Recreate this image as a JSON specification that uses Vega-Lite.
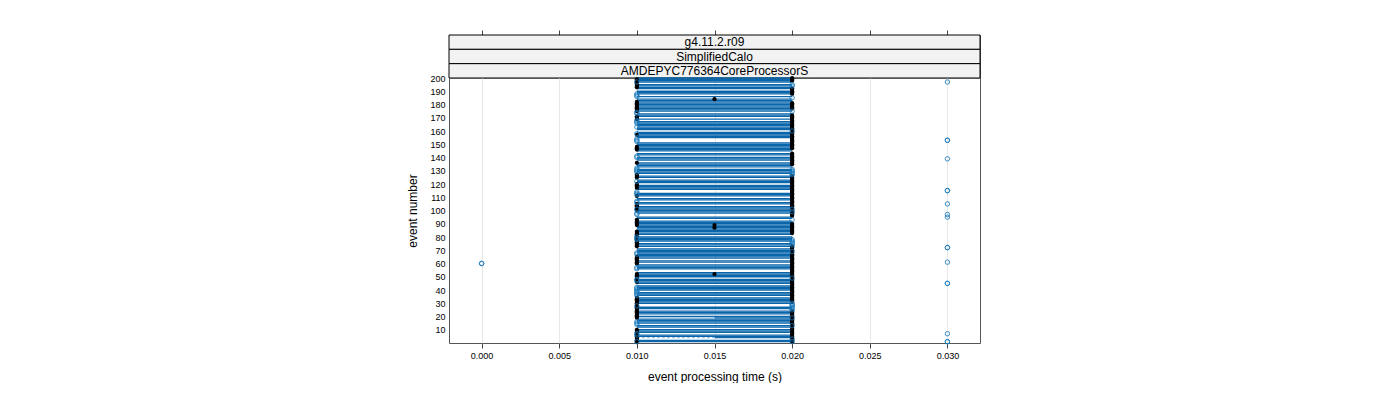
{
"$schema": "https://vega.github.io/schema/vega-lite/v6.json",
"padding": {"left": 406, "top": 29, "right": 0, "bottom": 0},
"bounds": "flush",
"spacing": 0,
"config": {"font": "Liberation Sans", "view": {"stroke": "#555555", "strokeWidth": 1}, "axis": {"labelFont": "Liberation Sans", "titleFont": "Liberation Sans", "titleFontWeight": "normal", "labelColor": "#000000", "titleColor": "#000000", "labelOverlap": false}},
"datasets": {
"strips": [{"lv": 1, "label": "g4.11.2.r09"}, {"lv": 2, "label": "SimplifiedCalo"}, {"lv": 3, "label": "AMDEPYC776364CoreProcessorS"}],
"seg": [{"e":1},{"e":2},{"e":5},{"e":6},{"e":8},{"e":9},{"e":10},{"e":12},{"e":13},{"e":15},{"e":16},{"e":17},{"e":18},{"e":20},{"e":22},{"e":23},{"e":24},{"e":26},{"e":27},{"e":30},{"e":31},{"e":32},{"e":33},{"e":34},{"e":36},{"e":37},{"e":38},{"e":40},{"e":41},{"e":42},{"e":43},{"e":45},{"e":46},{"e":47},{"e":48},{"e":50},{"e":51},{"e":52},{"e":53},{"e":56},{"e":57},{"e":58},{"e":59},{"e":61},{"e":62},{"e":64},{"e":65},{"e":66},{"e":67},{"e":68},{"e":69},{"e":70},{"e":71},{"e":73},{"e":74},{"e":75},{"e":77},{"e":78},{"e":79},{"e":80},{"e":82},{"e":83},{"e":84},{"e":85},{"e":86},{"e":87},{"e":88},{"e":89},{"e":90},{"e":91},{"e":92},{"e":94},{"e":95},{"e":98},{"e":99},{"e":100},{"e":101},{"e":102},{"e":103},{"e":105},{"e":106},{"e":108},{"e":109},{"e":111},{"e":112},{"e":113},{"e":116},{"e":117},{"e":118},{"e":119},{"e":121},{"e":122},{"e":123},{"e":125},{"e":126},{"e":128},{"e":129},{"e":130},{"e":131},{"e":133},{"e":134},{"e":135},{"e":136},{"e":138},{"e":139},{"e":140},{"e":142},{"e":143},{"e":145},{"e":146},{"e":147},{"e":148},{"e":149},{"e":150},{"e":151},{"e":155},{"e":156},{"e":157},{"e":158},{"e":159},{"e":161},{"e":162},{"e":163},{"e":164},{"e":165},{"e":166},{"e":167},{"e":169},{"e":171},{"e":172},{"e":173},{"e":175},{"e":176},{"e":177},{"e":178},{"e":179},{"e":180},{"e":181},{"e":182},{"e":183},{"e":184},{"e":186},{"e":188},{"e":189},{"e":190},{"e":192},{"e":193},{"e":194},{"e":195},{"e":197},{"e":198},{"e":199},{"e":200}],
"part": [{"e": 19}, {"e": 4}],
"blk": [
{"e":1,"t":0.01},{"e":2,"t":0.01},{"e":3,"t":0.01},{"e":4,"t":0.01},{"e":5,"t":0.01},{"e":6,"t":0.01},{"e":7,"t":0.01},{"e":8,"t":0.01},{"e":9,"t":0.01},{"e":10,"t":0.01},{"e":19,"t":0.01},{"e":20,"t":0.01},{"e":21,"t":0.01},{"e":22,"t":0.01},{"e":23,"t":0.01},{"e":24,"t":0.01},{"e":25,"t":0.01},{"e":26,"t":0.01},{"e":27,"t":0.01},{"e":28,"t":0.01},{"e":30,"t":0.01},{"e":31,"t":0.01},{"e":32,"t":0.01},{"e":33,"t":0.01},{"e":34,"t":0.01},{"e":46,"t":0.01},{"e":47,"t":0.01},{"e":48,"t":0.01},{"e":49,"t":0.01},{"e":50,"t":0.01},{"e":51,"t":0.01},{"e":52,"t":0.01},{"e":60,"t":0.01},{"e":61,"t":0.01},{"e":62,"t":0.01},{"e":63,"t":0.01},{"e":64,"t":0.01},{"e":65,"t":0.01},{"e":73,"t":0.01},{"e":74,"t":0.01},{"e":75,"t":0.01},{"e":76,"t":0.01},{"e":77,"t":0.01},{"e":78,"t":0.01},{"e":79,"t":0.01},{"e":80,"t":0.01},{"e":81,"t":0.01},{"e":82,"t":0.01},{"e":83,"t":0.01},{"e":84,"t":0.01},{"e":89,"t":0.01},{"e":90,"t":0.01},{"e":91,"t":0.01},{"e":92,"t":0.01},{"e":93,"t":0.01},{"e":100,"t":0.01},{"e":101,"t":0.01},{"e":102,"t":0.01},{"e":103,"t":0.01},{"e":104,"t":0.01},{"e":105,"t":0.01},{"e":111,"t":0.01},{"e":117,"t":0.01},{"e":118,"t":0.01},{"e":119,"t":0.01},{"e":120,"t":0.01},{"e":125,"t":0.01},{"e":126,"t":0.01},{"e":127,"t":0.01},{"e":136,"t":0.01},{"e":146,"t":0.01},{"e":147,"t":0.01},{"e":148,"t":0.01},{"e":157,"t":0.01},{"e":169,"t":0.01},{"e":170,"t":0.01},{"e":171,"t":0.01},{"e":175,"t":0.01},{"e":176,"t":0.01},{"e":177,"t":0.01},{"e":178,"t":0.01},{"e":179,"t":0.01},{"e":180,"t":0.01},{"e":181,"t":0.01},{"e":182,"t":0.01},{"e":193,"t":0.01},{"e":194,"t":0.01},{"e":195,"t":0.01},{"e":196,"t":0.01},{"e":197,"t":0.01},{"e":198,"t":0.01},{"e":199,"t":0.01},
{"e":1,"t":0.02},{"e":2,"t":0.02},{"e":3,"t":0.02},{"e":4,"t":0.02},{"e":5,"t":0.02},{"e":6,"t":0.02},{"e":7,"t":0.02},{"e":8,"t":0.02},{"e":9,"t":0.02},{"e":10,"t":0.02},{"e":11,"t":0.02},{"e":12,"t":0.02},{"e":14,"t":0.02},{"e":15,"t":0.02},{"e":16,"t":0.02},{"e":17,"t":0.02},{"e":18,"t":0.02},{"e":19,"t":0.02},{"e":20,"t":0.02},{"e":21,"t":0.02},{"e":22,"t":0.02},{"e":23,"t":0.02},{"e":24,"t":0.02},{"e":31,"t":0.02},{"e":32,"t":0.02},{"e":33,"t":0.02},{"e":34,"t":0.02},{"e":35,"t":0.02},{"e":36,"t":0.02},{"e":37,"t":0.02},{"e":38,"t":0.02},{"e":39,"t":0.02},{"e":40,"t":0.02},{"e":41,"t":0.02},{"e":42,"t":0.02},{"e":43,"t":0.02},{"e":44,"t":0.02},{"e":45,"t":0.02},{"e":46,"t":0.02},{"e":47,"t":0.02},{"e":48,"t":0.02},{"e":50,"t":0.02},{"e":51,"t":0.02},{"e":52,"t":0.02},{"e":53,"t":0.02},{"e":54,"t":0.02},{"e":55,"t":0.02},{"e":56,"t":0.02},{"e":57,"t":0.02},{"e":58,"t":0.02},{"e":59,"t":0.02},{"e":60,"t":0.02},{"e":61,"t":0.02},{"e":62,"t":0.02},{"e":63,"t":0.02},{"e":64,"t":0.02},{"e":65,"t":0.02},{"e":66,"t":0.02},{"e":67,"t":0.02},{"e":68,"t":0.02},{"e":70,"t":0.02},{"e":71,"t":0.02},{"e":72,"t":0.02},{"e":73,"t":0.02},{"e":83,"t":0.02},{"e":84,"t":0.02},{"e":85,"t":0.02},{"e":86,"t":0.02},{"e":87,"t":0.02},{"e":88,"t":0.02},{"e":89,"t":0.02},{"e":90,"t":0.02},{"e":96,"t":0.02},{"e":97,"t":0.02},{"e":98,"t":0.02},{"e":99,"t":0.02},{"e":100,"t":0.02},{"e":102,"t":0.02},{"e":103,"t":0.02},{"e":104,"t":0.02},{"e":105,"t":0.02},{"e":106,"t":0.02},{"e":107,"t":0.02},{"e":108,"t":0.02},{"e":109,"t":0.02},{"e":110,"t":0.02},{"e":111,"t":0.02},{"e":112,"t":0.02},{"e":113,"t":0.02},{"e":114,"t":0.02},{"e":115,"t":0.02},{"e":116,"t":0.02},{"e":117,"t":0.02},{"e":118,"t":0.02},{"e":119,"t":0.02},{"e":120,"t":0.02},{"e":121,"t":0.02},{"e":122,"t":0.02},{"e":123,"t":0.02},{"e":124,"t":0.02},{"e":125,"t":0.02},{"e":126,"t":0.02},{"e":135,"t":0.02},{"e":136,"t":0.02},{"e":137,"t":0.02},{"e":138,"t":0.02},{"e":139,"t":0.02},{"e":140,"t":0.02},{"e":141,"t":0.02},{"e":142,"t":0.02},{"e":143,"t":0.02},{"e":147,"t":0.02},{"e":148,"t":0.02},{"e":149,"t":0.02},{"e":150,"t":0.02},{"e":151,"t":0.02},{"e":152,"t":0.02},{"e":153,"t":0.02},{"e":154,"t":0.02},{"e":155,"t":0.02},{"e":156,"t":0.02},{"e":157,"t":0.02},{"e":158,"t":0.02},{"e":159,"t":0.02},{"e":161,"t":0.02},{"e":162,"t":0.02},{"e":163,"t":0.02},{"e":164,"t":0.02},{"e":165,"t":0.02},{"e":166,"t":0.02},{"e":167,"t":0.02},{"e":168,"t":0.02},{"e":169,"t":0.02},{"e":170,"t":0.02},{"e":171,"t":0.02},{"e":172,"t":0.02},{"e":177,"t":0.02},{"e":178,"t":0.02},{"e":179,"t":0.02},{"e":180,"t":0.02},{"e":181,"t":0.02},{"e":188,"t":0.02},{"e":189,"t":0.02},{"e":190,"t":0.02},{"e":191,"t":0.02},{"e":192,"t":0.02},{"e":198,"t":0.02},{"e":199,"t":0.02},{"e":200,"t":0.02},
{"e":52,"t":0.015},{"e":87,"t":0.015},{"e":89,"t":0.015},{"e":184,"t":0.015}],
"blu": [
{"e":1,"t":0.01},{"e":6,"t":0.01},{"e":7,"t":0.01},{"e":14,"t":0.01},{"e":15,"t":0.01},{"e":16,"t":0.01},{"e":28,"t":0.01},{"e":36,"t":0.01},{"e":37,"t":0.01},{"e":38,"t":0.01},{"e":39,"t":0.01},{"e":40,"t":0.01},{"e":41,"t":0.01},{"e":42,"t":0.01},{"e":47,"t":0.01},{"e":48,"t":0.01},{"e":56,"t":0.01},{"e":57,"t":0.01},{"e":67,"t":0.01},{"e":68,"t":0.01},{"e":78,"t":0.01},{"e":79,"t":0.01},{"e":80,"t":0.01},{"e":97,"t":0.01},{"e":98,"t":0.01},{"e":101,"t":0.01},{"e":106,"t":0.01},{"e":107,"t":0.01},{"e":112,"t":0.01},{"e":113,"t":0.01},{"e":114,"t":0.01},{"e":122,"t":0.01},{"e":129,"t":0.01},{"e":130,"t":0.01},{"e":131,"t":0.01},{"e":132,"t":0.01},{"e":140,"t":0.01},{"e":141,"t":0.01},{"e":152,"t":0.01},{"e":153,"t":0.01},{"e":154,"t":0.01},{"e":158,"t":0.01},{"e":163,"t":0.01},{"e":166,"t":0.01},{"e":167,"t":0.01},{"e":168,"t":0.01},{"e":173,"t":0.01},{"e":174,"t":0.01},{"e":186,"t":0.01},{"e":187,"t":0.01},{"e":188,"t":0.01},{"e":197,"t":0.01},
{"e":1,"t":0.02},{"e":3,"t":0.02},{"e":13,"t":0.02},{"e":19,"t":0.02},{"e":25,"t":0.02},{"e":26,"t":0.02},{"e":27,"t":0.02},{"e":28,"t":0.02},{"e":29,"t":0.02},{"e":30,"t":0.02},{"e":49,"t":0.02},{"e":69,"t":0.02},{"e":74,"t":0.02},{"e":75,"t":0.02},{"e":76,"t":0.02},{"e":77,"t":0.02},{"e":78,"t":0.02},{"e":93,"t":0.02},{"e":99,"t":0.02},{"e":101,"t":0.02},{"e":127,"t":0.02},{"e":128,"t":0.02},{"e":129,"t":0.02},{"e":130,"t":0.02},{"e":131,"t":0.02},{"e":160,"t":0.02},{"e":175,"t":0.02},{"e":185,"t":0.02},{"e":194,"t":0.02},{"e":195,"t":0.02},
{"e":1,"t":0.03},{"e":1,"t":0.03},{"e":7,"t":0.03},{"e":45,"t":0.03},{"e":45,"t":0.03},{"e":61,"t":0.03},{"e":72,"t":0.03},{"e":72,"t":0.03},{"e":95,"t":0.03},{"e":97,"t":0.03},{"e":105,"t":0.03},{"e":115,"t":0.03},{"e":115,"t":0.03},{"e":139,"t":0.03},{"e":153,"t":0.03},{"e":153,"t":0.03},{"e":197,"t":0.03},
{"e":60,"t":0.0},{"e":60,"t":0.0}]
},
"vconcat": [
{
"width": 531,
"height": 43,
"data": {"name": "strips"},
"layer": [
{"mark": {"type": "rect", "fill": "#f2f2f2", "stroke": "#000000", "strokeWidth": 1},
"encoding": {
"x": {"datum": -0.0021, "type": "quantitative", "scale": {"domain": [-0.0021, 0.0321], "nice": false, "zero": false}, "axis": {"orient": "top", "values": [0, 0.005, 0.01, 0.015, 0.02, 0.025, 0.03], "tickCount": 30, "labels": false, "ticks": true, "tickSize": 5, "tickColor": "#444444", "domain": false, "grid": false, "title": null}},
"x2": {"datum": 0.0321},
"y": {"field": "lv", "type": "ordinal", "scale": {"paddingInner": 0, "paddingOuter": 0}, "axis": null}
}},
{"mark": {"type": "text", "fontSize": 12, "font": "Liberation Sans", "color": "#000000", "baseline": "middle"},
"encoding": {
"x": {"datum": 0.015, "type": "quantitative"},
"y": {"field": "lv", "type": "ordinal"},
"text": {"field": "label"}
}}
]
},
{
"width": 531,
"height": 265,
"layer": [
{"data": {"name": "seg"},
"mark": {"type": "rule", "color": "#0a66ab", "strokeWidth": 1.3},
"encoding": {
"x": {"datum": 0.01, "type": "quantitative", "scale": {"domain": [-0.0021, 0.0321], "nice": false, "zero": false}, "axis": {"title": "event processing time (s)", "values": [0, 0.005, 0.01, 0.015, 0.02, 0.025, 0.03], "tickCount": 30, "format": ".3f", "labelFontSize": 9, "titleFontSize": 12, "tickSize": 5, "tickColor": "#444444", "domain": false, "grid": true, "gridColor": "#e8e8e8", "labelPadding": 3, "titlePadding": 11, "labelOverlap": false}},
"x2": {"datum": 0.02},
"y": {"field": "e", "type": "quantitative", "scale": {"domain": [0, 200], "nice": false, "zero": false}, "axis": {"title": "event number", "values": [10, 20, 30, 40, 50, 60, 70, 80, 90, 100, 110, 120, 130, 140, 150, 160, 170, 180, 190, 200], "tickCount": 40, "ticks": false, "domain": false, "grid": false, "labelFontSize": 9, "titleFontSize": 12, "labelPadding": 4, "titlePadding": 10, "labelOverlap": false, "labelBound": false, "labelFlush": false}}
}},
{"data": {"name": "part"},
"mark": {"type": "rule", "color": "#0a66ab", "strokeWidth": 1.3},
"encoding": {"x": {"datum": 0.015, "type": "quantitative"}, "x2": {"datum": 0.02}, "y": {"field": "e", "type": "quantitative"}}},
{"data": {"name": "part"},
"mark": {"type": "rule", "color": "#9cc6e6", "strokeWidth": 1.3, "strokeDash": [3, 2]},
"encoding": {"x": {"datum": 0.01, "type": "quantitative"}, "x2": {"datum": 0.015}, "y": {"field": "e", "type": "quantitative"}}},
{"data": {"name": "blk"},
"mark": {"type": "point", "shape": "circle", "filled": true, "color": "#000000", "size": 18, "opacity": 1},
"encoding": {"x": {"field": "t", "type": "quantitative"}, "y": {"field": "e", "type": "quantitative"}}},
{"data": {"name": "blu"},
"mark": {"type": "point", "shape": "circle", "filled": false, "color": "#1a7bbf", "size": 20, "strokeWidth": 1, "opacity": 0.85},
"encoding": {"x": {"field": "t", "type": "quantitative"}, "y": {"field": "e", "type": "quantitative"}}}
]
}
]
}
